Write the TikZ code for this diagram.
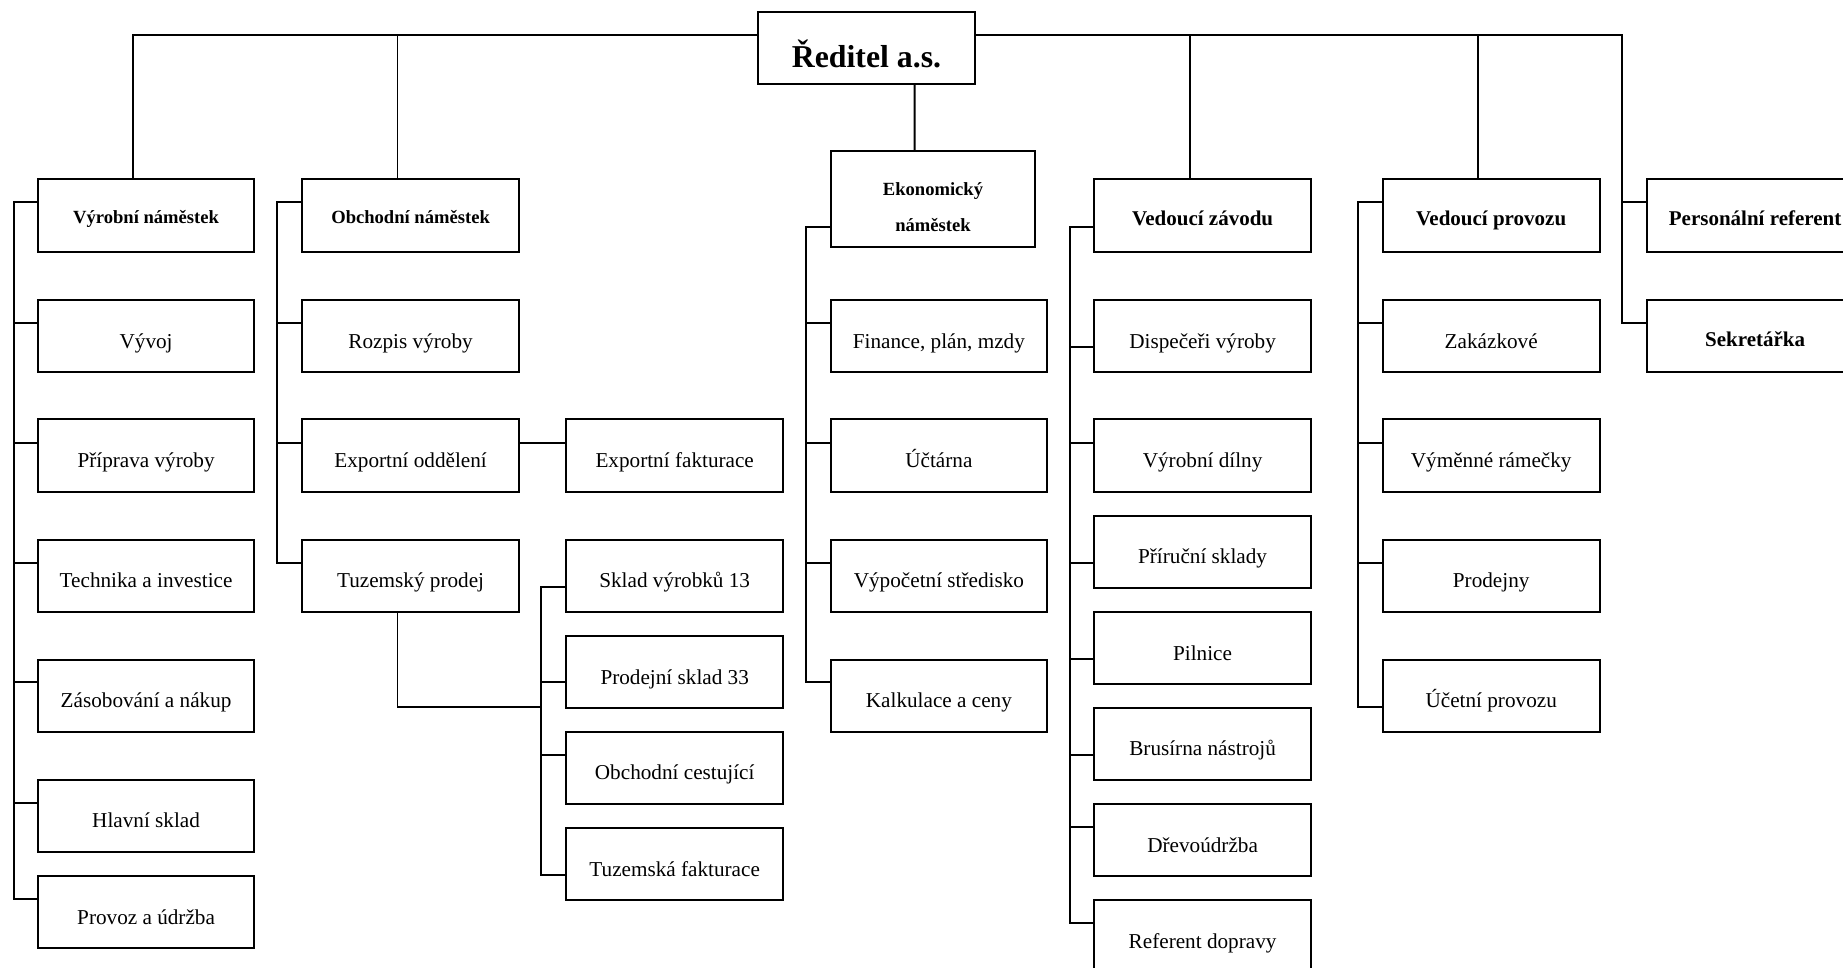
\documentclass[tikz,border=0pt]{standalone}
\usepackage{fontspec}
\setmainfont{Liberation Serif}
\usetikzlibrary{calc}
\tikzset{
  box/.style={draw, line width=1pt, fill=white, minimum width=108.3pt, minimum height=36.2pt,
    inner sep=0pt, anchor=north west, align=center, text height=12pt, text depth=0pt,
    font=\fontsize{10.6}{12.5}\selectfont},
  hsmall/.style={box, text height=8.2pt, font=\bfseries\fontsize{9.3}{11}\selectfont},
  hbig/.style={box, text height=10.5pt, font=\bfseries\fontsize{10.5}{12.5}\selectfont},
  conn/.style={line width=0.9pt}
}
\begin{document}
\begin{tikzpicture}[x=0.5pt, y=-0.5pt]
\useasboundingbox (0,0) rectangle (1843,968);
% top
\node[box, minimum height=36pt, text height=20pt, font=\bfseries\fontsize{15.9}{18}\selectfont] (dir) at (757.2,10.7) {Ředitel a.s.};
% heads
\node[hsmall] (vn) at (36.8,178.3) {Výrobní náměstek};
\node[hsmall] (on) at (301.3,178.3) {Obchodní náměstek};
\node[hsmall, minimum width=102.4pt, minimum height=48pt, text height=33pt, text depth=0pt, font=\bfseries\fontsize{9.3}{18.3}\selectfont] (en) at (829.6,150) {Ekonomický\\náměstek};
\node[hbig] (vz) at (1093.3,178.3) {Vedoucí závodu};
\node[hbig] (vp) at (1381.9,178.3) {Vedoucí provozu};
\node[hbig] (pr) at (1645.8,178.3) {Personální referent};
\node[hbig] (sek) at (1645.8,299) {Sekretářka};
% column 1
\node[box] (vyv) at (36.8,299) {Vývoj};
\node[box] (pri) at (36.8,418.2) {Příprava výroby};
\node[box] (tech) at (36.8,538.6) {Technika a investice};
\node[box] (zas) at (36.8,658.6) {Zásobování a nákup};
\node[box] (hs) at (36.8,778.6) {Hlavní sklad};
\node[box] (pu) at (36.8,875) {Provoz a údržba};
% column 2
\node[box] (roz) at (301.3,299) {Rozpis výroby};
\node[box] (exo) at (301.3,418.2) {Exportní oddělení};
\node[box] (tp) at (301.3,538.6) {Tuzemský prodej};
% column 3
\node[box] (exf) at (565.4,418.2) {Exportní fakturace};
\node[box] (sv) at (565.4,538.6) {Sklad výrobků 13};
\node[box] (ps) at (565.4,635) {Prodejní sklad 33};
\node[box] (oc) at (565.4,730.6) {Obchodní cestující};
\node[box] (tf) at (565.4,827) {Tuzemská fakturace};
% column 4
\node[box] (fin) at (829.6,299) {Finance, plán, mzdy};
\node[box] (uct) at (829.6,418.2) {Účtárna};
\node[box] (vs) at (829.6,538.6) {Výpočetní středisko};
\node[box] (kal) at (829.6,658.6) {Kalkulace a ceny};
% column 5
\node[box] (dis) at (1093.3,299) {Dispečeři výroby};
\node[box] (vd) at (1093.3,418.2) {Výrobní dílny};
\node[box] (ps2) at (1093.3,514.6) {Příruční sklady};
\node[box] (pil) at (1093.3,611) {Pilnice};
\node[box] (bru) at (1093.3,706.6) {Brusírna nástrojů};
\node[box] (dre) at (1093.3,803) {Dřevoúdržba};
\node[box] (ref) at (1093.3,899.3) {Referent dopravy};
% column 6
\node[box] (zak) at (1381.9,299) {Zakázkové};
\node[box] (vym) at (1381.9,418.2) {Výměnné rámečky};
\node[box] (prj) at (1381.9,538.6) {Prodejny};
\node[box] (ucp) at (1381.9,658.6) {Účetní provozu};

% top connectors
\coordinate (tl) at ($(dir.north west)+(0,24)$);
\coordinate (tr) at ($(dir.north east)+(0,24)$);
\draw[conn] (tl) -| ($(vn.north west)+(96.5,0)$);
\draw[conn] (tl) -| ($(on.north west)+(96.1,0)$);
\draw[conn] (tr) -| ($(vz.north west)+(96.9,0)$);
\draw[conn] (tr) -| ($(vp.north west)+(96.1,0)$);
\draw[conn] (tr) -| ($(sek.north west)+(-23.9,23.7)$) -- ($(sek.north west)+(0,23.7)$);
\draw[conn] ($(pr.north west)+(0,24)$) -- ++(-23.9,0);
\draw[conn] ($(dir.south west)+(157.4,0)$) -- ($(en.north west)+(85,0)$);

% column 1
\draw[conn] ($(vn.north west)+(0,24)$) -| ($(pu.north west)+(-23,24.3)$) -- ($(pu.north west)+(0,24.3)$);
\foreach \n/\d in {vyv/23.7, pri/24.4, tech/24.4, zas/23.2, hs/24}
  \draw[conn] ($(\n.north west)+(0,\d)$) -- ++(-23,0);
% column 2
\draw[conn] ($(on.north west)+(0,24)$) -| ($(tp.north west)+(-24.1,24.4)$) -- ($(tp.north west)+(0,24.4)$);
\foreach \n/\d in {roz/23.7, exo/24.4}
  \draw[conn] ($(\n.north west)+(0,\d)$) -- ++(-24.1,0);
\draw[conn] ($(exo.north east)+(0,24.4)$) -- ($(exf.north west)+(0,24.4)$);
% sales
\draw[conn] ($(tp.south west)+(96.1,0)$) |- ($(ps.north west)+(-24.1,72)$);
\draw[conn] ($(sv.north west)+(0,48)$) -- ++(-24.1,0) |- ($(tf.north west)+(0,48)$);
\draw[conn] ($(ps.north west)+(0,47.2)$) -- ++(-24.1,0);
\draw[conn] ($(oc.north west)+(0,24)$) -- ++(-24.1,0);
% column 4
\draw[conn] ($(en.north west)+(0,76.7)$) -| ($(kal.north west)+(-23.8,23.6)$) -- ($(kal.north west)+(0,23.6)$);
\foreach \n/\d in {fin/23.7, uct/24.4, vs/24.4}
  \draw[conn] ($(\n.north west)+(0,\d)$) -- ++(-23.8,0);
% column 5
\draw[conn] ($(vz.north west)+(0,48.4)$) -| ($(ref.north west)+(-23.3,23.7)$) -- ($(ref.north west)+(0,23.7)$);
\foreach \n/\d in {dis/47.7, vd/24.4, ps2/48.4, pil/47.6, bru/48, dre/24}
  \draw[conn] ($(\n.north west)+(0,\d)$) -- ++(-23.3,0);
% column 6
\draw[conn] ($(vp.north west)+(0,24)$) -| ($(ucp.north west)+(-24.2,48.4)$) -- ($(ucp.north west)+(0,48.4)$);
\foreach \n/\d in {zak/23.7, vym/24.4, prj/24.4}
  \draw[conn] ($(\n.north west)+(0,\d)$) -- ++(-24.2,0);
\end{tikzpicture}
\end{document}
